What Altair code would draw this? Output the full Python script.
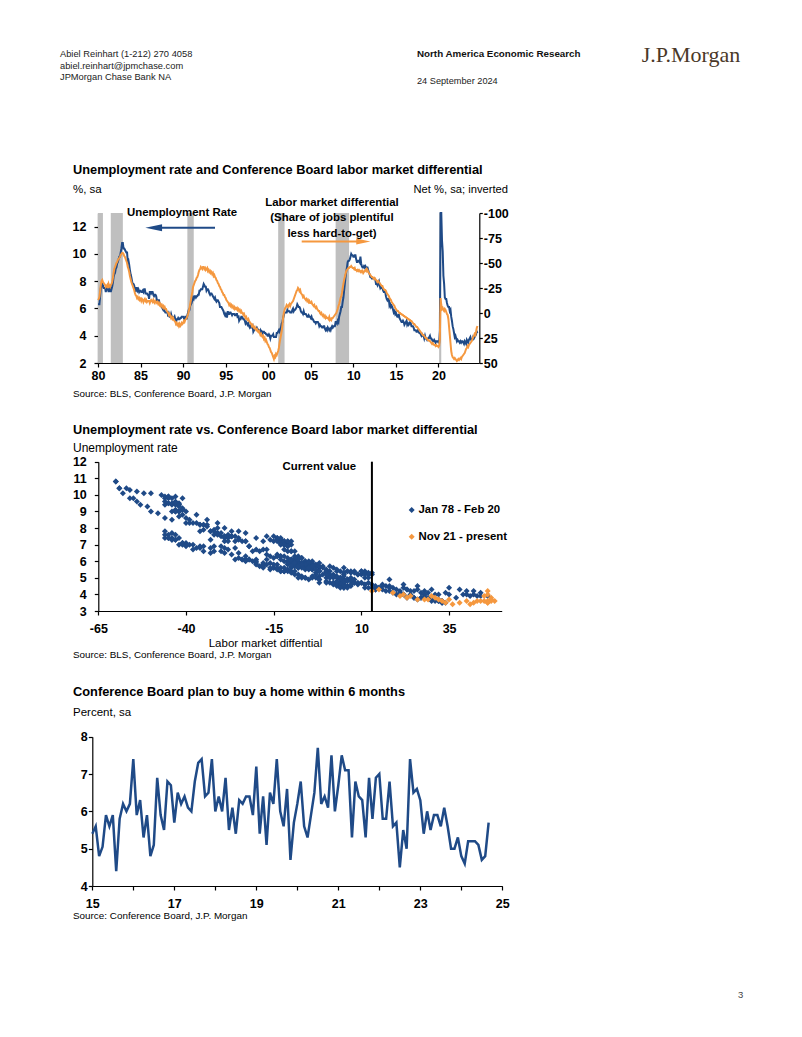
import altair as alt
import pandas as pd

# ---------------- data ----------------
first_year = 1978  # monthly, Jan 1978 - Aug 2024
unemployment_rate = [
    6.4, 6.3, 6.3, 6.1, 6.0, 5.9, 6.2, 5.9, 6.0, 5.8, 5.9, 6.0,   # 1978
    5.9, 5.9, 5.8, 5.8, 5.6, 5.7, 5.7, 6.0, 5.9, 6.0, 5.9, 6.0,   # 1979
    6.3, 6.3, 6.3, 6.9, 7.5, 7.6, 7.8, 7.7, 7.5, 7.5, 7.5, 7.2,   # 1980
    7.5, 7.4, 7.4, 7.2, 7.5, 7.5, 7.2, 7.4, 7.6, 7.9, 8.3, 8.5,   # 1981
    8.6, 8.9, 9.0, 9.3, 9.4, 9.6, 9.8, 9.8, 10.1, 10.4, 10.8, 10.8,  # 1982
    10.4, 10.4, 10.3, 10.2, 10.1, 10.1, 9.4, 9.5, 9.2, 8.8, 8.5, 8.3,  # 1983
    8.0, 7.8, 7.8, 7.7, 7.4, 7.2, 7.5, 7.5, 7.3, 7.4, 7.2, 7.3,   # 1984
    7.3, 7.2, 7.2, 7.3, 7.2, 7.4, 7.4, 7.1, 7.1, 7.1, 7.0, 7.0,   # 1985
    6.7, 7.2, 7.2, 7.1, 7.2, 7.2, 7.0, 6.9, 7.0, 7.0, 6.9, 6.6,   # 1986
    6.6, 6.6, 6.6, 6.3, 6.3, 6.2, 6.1, 6.0, 5.9, 6.0, 5.8, 5.7,   # 1987
    5.7, 5.7, 5.7, 5.4, 5.6, 5.4, 5.4, 5.6, 5.4, 5.4, 5.3, 5.3,   # 1988
    5.4, 5.2, 5.0, 5.2, 5.2, 5.3, 5.2, 5.2, 5.3, 5.3, 5.4, 5.4,   # 1989
    5.4, 5.3, 5.2, 5.4, 5.4, 5.2, 5.5, 5.7, 5.9, 5.9, 6.2, 6.3,   # 1990
    6.4, 6.6, 6.8, 6.7, 6.9, 6.9, 6.8, 6.9, 6.9, 7.0, 7.0, 7.3,   # 1991
    7.3, 7.4, 7.4, 7.4, 7.6, 7.8, 7.7, 7.6, 7.6, 7.3, 7.4, 7.4,   # 1992
    7.3, 7.1, 7.0, 7.1, 7.1, 7.0, 6.9, 6.8, 6.7, 6.8, 6.6, 6.5,   # 1993
    6.6, 6.6, 6.5, 6.4, 6.1, 6.1, 6.1, 6.0, 5.9, 5.8, 5.6, 5.5,   # 1994
    5.6, 5.4, 5.4, 5.8, 5.6, 5.6, 5.7, 5.7, 5.6, 5.5, 5.6, 5.6,   # 1995
    5.6, 5.5, 5.5, 5.6, 5.6, 5.3, 5.5, 5.1, 5.2, 5.2, 5.4, 5.4,   # 1996
    5.3, 5.2, 5.2, 5.1, 4.9, 5.0, 4.9, 4.8, 4.9, 4.7, 4.6, 4.7,   # 1997
    4.6, 4.6, 4.7, 4.3, 4.4, 4.5, 4.5, 4.5, 4.6, 4.5, 4.4, 4.4,   # 1998
    4.3, 4.4, 4.2, 4.3, 4.2, 4.3, 4.3, 4.2, 4.2, 4.1, 4.1, 4.0,   # 1999
    4.0, 4.1, 4.0, 3.8, 4.0, 4.0, 4.0, 4.1, 3.9, 3.9, 3.9, 3.9,   # 2000
    4.2, 4.2, 4.3, 4.4, 4.3, 4.5, 4.6, 4.9, 5.0, 5.3, 5.5, 5.7,   # 2001
    5.7, 5.7, 5.7, 5.9, 5.8, 5.8, 5.8, 5.7, 5.7, 5.7, 5.9, 6.0,   # 2002
    5.8, 5.9, 5.9, 6.0, 6.1, 6.3, 6.2, 6.1, 6.1, 6.0, 5.8, 5.7,   # 2003
    5.7, 5.6, 5.8, 5.6, 5.6, 5.6, 5.5, 5.4, 5.4, 5.5, 5.4, 5.4,   # 2004
    5.3, 5.4, 5.2, 5.2, 5.1, 5.0, 5.0, 4.9, 5.0, 5.0, 5.0, 4.9,   # 2005
    4.7, 4.8, 4.7, 4.7, 4.6, 4.6, 4.7, 4.7, 4.5, 4.4, 4.5, 4.4,   # 2006
    4.6, 4.5, 4.4, 4.5, 4.4, 4.6, 4.7, 4.6, 4.7, 4.7, 4.7, 5.0,   # 2007
    5.0, 4.9, 5.1, 5.0, 5.4, 5.6, 5.8, 6.1, 6.1, 6.5, 6.8, 7.3,   # 2008
    7.8, 8.3, 8.7, 9.0, 9.4, 9.5, 9.5, 9.6, 9.8, 10.0, 9.9, 9.9,  # 2009
    9.8, 9.8, 9.9, 9.9, 9.6, 9.4, 9.4, 9.5, 9.5, 9.4, 9.8, 9.3,   # 2010
    9.1, 9.0, 9.0, 9.1, 9.0, 9.1, 9.0, 9.0, 9.0, 8.8, 8.6, 8.5,   # 2011
    8.3, 8.3, 8.2, 8.2, 8.2, 8.2, 8.2, 8.1, 7.8, 7.8, 7.7, 7.9,   # 2012
    8.0, 7.7, 7.5, 7.6, 7.5, 7.5, 7.3, 7.2, 7.2, 7.2, 6.9, 6.7,   # 2013
    6.6, 6.7, 6.7, 6.2, 6.3, 6.1, 6.2, 6.1, 5.9, 5.7, 5.8, 5.6,   # 2014
    5.7, 5.5, 5.4, 5.4, 5.6, 5.3, 5.2, 5.1, 5.0, 5.0, 5.1, 5.0,   # 2015
    4.8, 4.9, 5.0, 5.1, 4.8, 4.9, 4.8, 4.9, 5.0, 4.9, 4.7, 4.7,   # 2016
    4.7, 4.6, 4.4, 4.4, 4.4, 4.3, 4.3, 4.4, 4.3, 4.2, 4.2, 4.1,   # 2017
    4.0, 4.1, 4.0, 4.0, 3.8, 4.0, 3.8, 3.8, 3.7, 3.8, 3.8, 3.9,   # 2018
    4.0, 3.8, 3.8, 3.7, 3.6, 3.6, 3.7, 3.6, 3.5, 3.6, 3.6, 3.6,   # 2019
    3.5, 3.5, 4.4, 14.8, 13.2, 11.0, 10.2, 8.4, 7.8, 6.8, 6.7, 6.7,  # 2020
    6.4, 6.2, 6.1, 6.1, 5.8, 5.9, 5.4, 5.1, 4.7, 4.5, 4.2, 3.9,   # 2021
    4.0, 3.8, 3.6, 3.7, 3.6, 3.6, 3.5, 3.6, 3.5, 3.6, 3.6, 3.5,   # 2022
    3.4, 3.6, 3.5, 3.4, 3.7, 3.6, 3.5, 3.7, 3.8, 3.9, 3.7, 3.7,   # 2023
    3.7, 3.9, 3.8, 3.9, 4.0, 4.1, 4.3, 4.2,                       # 2024
]
# Conference Board: jobs plentiful less jobs hard to get (net %)
labor_differential = [
    -14, -12, -13, -10, -9, -8, -7, -8, -6, -5, -6, -4,          # 1978
    -4, -5, -3, -4, -2, -5, -6, -8, -7, -9, -10, -11,            # 1979
    -13, -14, -16, -22, -28, -32, -33, -31, -30, -29, -28, -26,  # 1980
    -27, -28, -25, -29, -27, -26, -28, -29, -31, -35, -40, -44,  # 1981
    -46, -48, -50, -51, -53, -54, -55, -56, -58, -59, -60, -60,  # 1982
    -59, -57, -56, -54, -52, -50, -46, -44, -41, -37, -34, -31,  # 1983
    -29, -27, -25, -23, -20, -18, -17, -15, -16, -14, -15, -13,  # 1984
    -14, -12, -14, -13, -11, -13, -14, -12, -13, -11, -12, -12,  # 1985
    -12, -10, -12, -13, -12, -11, -13, -11, -10, -12, -11, -10,  # 1986
    -11, -9, -10, -8, -9, -7, -8, -6, -7, -5, -6, -4,            # 1987
    -4, -2, -1, 0, 2, 1, 3, 5, 4, 6, 5, 7,                       # 1988
    8, 9, 11, 10, 12, 11, 13, 11, 13, 12, 10, 11,                # 1989
    10, 8, 9, 7, 6, 5, 3, 1, -2, -5, -9, -13,                    # 1990
    -17, -21, -26, -28, -30, -32, -33, -35, -36, -38, -41, -43,  # 1991
    -44, -46, -45, -44, -46, -46, -44, -45, -43, -44, -45, -42,  # 1992
    -43, -41, -42, -40, -41, -39, -40, -37, -38, -36, -35, -33,  # 1993
    -32, -30, -29, -27, -26, -24, -23, -21, -20, -18, -18, -16,  # 1994
    -15, -13, -12, -11, -10, -8, -9, -7, -8, -6, -7, -5,         # 1995
    -6, -4, -5, -4, -5, -3, -4, -2, -3, -1, -2, 0,               # 1996
    0, 2, 1, 3, 5, 4, 6, 7, 6, 8, 9, 10,                         # 1997
    11, 13, 12, 14, 15, 14, 16, 17, 16, 18, 19, 18,              # 1998
    20, 22, 21, 23, 24, 23, 26, 25, 28, 27, 29, 31,              # 1999
    32, 34, 35, 37, 39, 40, 42, 44, 46, 43, 44, 41,              # 2000
    42, 40, 38, 35, 30, 26, 22, 18, 12, 5, 0, -3,                # 2001
    -5, -6, -8, -7, -6, -8, -9, -7, -9, -10, -11, -12,           # 2002
    -14, -16, -18, -20, -22, -23, -25, -24, -22, -23, -20, -19,  # 2003
    -18, -16, -17, -15, -14, -13, -14, -12, -13, -11, -12, -10,  # 2004
    -10, -11, -9, -8, -7, -8, -6, -5, -6, -4, -3, -2,            # 2005
    -2, 0, 1, 0, 2, 3, 2, 4, 3, 5, 4, 5,                         # 2006
    5, 6, 4, 7, 6, 7, 5, 5, 4, 3, 2, 1,                          # 2007
    0, -2, -4, -7, -9, -12, -15, -17, -20, -25, -29, -33,        # 2008
    -36, -39, -42, -43, -44, -45, -45, -46, -46, -47, -46, -45,  # 2009
    -45, -44, -45, -43, -43, -42, -43, -42, -43, -42, -41, -42,  # 2010
    -41, -42, -40, -41, -42, -43, -42, -44, -43, -41, -40, -39,  # 2011
    -38, -37, -36, -36, -35, -34, -35, -34, -33, -32, -31, -32,  # 2012
    -31, -30, -29, -28, -27, -27, -25, -24, -23, -23, -22, -20,  # 2013
    -19, -18, -17, -15, -14, -13, -11, -10, -9, -8, -7, -5,      # 2014
    -4, -3, -2, -2, -1, 0, 0, 1, 1, 2, 2, 3,                     # 2015
    3, 4, 4, 5, 5, 6, 6, 7, 7, 8, 8, 9,                          # 2016
    10, 11, 11, 12, 13, 14, 14, 15, 16, 17, 18, 19,              # 2017
    20, 21, 22, 22, 23, 24, 25, 25, 26, 27, 27, 28,              # 2018
    28, 29, 30, 31, 30, 31, 32, 32, 33, 32, 33, 33,              # 2019
    34, 33, 26, -15, -8, -4, -5, -3, -2, -4, -3, -1,             # 2020
    1, 2, 6, 14, 22, 30, 38, 42, 44, 45, 46, 45,                 # 2021
    46, 47, 48, 47, 46, 47, 46, 45, 46, 44, 43, 42,              # 2022
    41, 40, 38, 36, 35, 33, 34, 32, 31, 30, 29, 28,              # 2023
    26, 24, 23, 21, 22, 19, 15, 13,                              # 2024
]
recession_start = [1980.0, 1981.5, 1990.5, 2001.17, 2007.92, 2020.08]
recession_end = [1980.58, 1982.92, 1991.25, 2001.92, 2009.5, 2020.33]

home_first_year = 2015  # monthly, Jan 2015 - Sep 2024
plan_to_buy_home = [
    5.4, 5.6, 4.8, 5.05, 5.9, 5.6, 5.9, 4.4, 5.8, 6.2, 6.0, 6.2,   # 2015
    7.4, 5.9, 6.3, 5.3, 5.9, 4.8, 5.1, 6.9, 5.9, 5.5, 6.8, 6.7,    # 2016
    5.7, 6.5, 6.2, 6.4, 6.1, 6.0, 6.8, 7.3, 7.4, 6.4, 6.5, 7.4,    # 2017
    6.0, 6.4, 6.0, 6.9, 5.5, 6.1, 5.4, 6.3, 6.2, 6.4, 6.4, 5.9,    # 2018
    7.2, 5.4, 6.4, 5.1, 6.5, 6.2, 7.4, 6.0, 5.6, 6.6, 4.7, 5.7,    # 2019
    6.2, 6.8, 5.6, 5.3, 5.9, 6.5, 7.7, 6.2, 6.4, 6.1, 7.5, 6.0,    # 2020
    6.7, 7.5, 7.1, 7.1, 5.3, 6.8, 6.4, 6.3, 5.3, 6.9, 5.8, 6.9,    # 2021
    7.0, 5.8, 5.8, 6.8, 5.6, 5.7, 4.5, 5.5, 5.0, 7.4, 6.5, 6.6,    # 2022
    6.3, 5.4, 6.0, 5.5, 5.9, 5.9, 5.6, 6.1, 5.6, 5.0, 5.0, 5.3,    # 2023
    4.8, 4.6, 5.2, 5.2, 5.2, 5.1, 4.7, 4.8, 5.7,                   # 2024
]

# ---------------- tables ----------------
n = len(unemployment_rate)
df = pd.DataFrame({
    "t": [first_year + i / 12 for i in range(n)],
    "ur": unemployment_rate,
    "lmd": labor_differential,
})
line_df = df[df["t"] >= 1980].reset_index(drop=True)
feb20 = (2020 - first_year) * 12 + 1
nov21 = (2021 - first_year) * 12 + 10
blue_df = df.iloc[: feb20 + 1]
orange_df = df.iloc[nov21:]
current_df = pd.DataFrame({"cur": [labor_differential[-1]]})
rec_df = pd.DataFrame({"s": recession_start, "e": recession_end})
home_df = pd.DataFrame({
    "t": [home_first_year + i / 12 for i in range(len(plan_to_buy_home))],
    "v": plan_to_buy_home,
})

# ---------------- layout helpers ----------------
W, H = 786, 1010
M = 8
NAVY = "#1f4a87"
ORANGE = "#f5983f"
GRAY = "#bfbfbf"
SANS = "'Liberation Sans', Arial, sans-serif"
SERIF = "'Liberation Serif', 'Times New Roman', serif"
PLAIN = "'' + datum.value"


def P(v):
    return v - M


def label(text, x, y, size=12, weight="normal", align="left", color="#000", font=SANS):
    return alt.Chart().mark_text(
        text=text, align=align, baseline="middle", fontSize=size,
        fontWeight=weight, color=color, font=font,
    ).encode(x=alt.value(P(x)), y=alt.value(P(y)))


def sc(domain, r0, r1, **kw):
    return alt.Scale(domain=domain, range=[P(r0), P(r1)], nice=False, zero=False, **kw)


def ax(orient, pos, values, expr=PLAIN, pad=3, size=12.5, tick=4):
    if orient == "bottom":
        off = P(pos) - H
    elif orient == "left":
        off = -P(pos)
    else:
        off = P(pos) - W
    return alt.Axis(
        orient=orient, offset=off, values=values, grid=False, title=None,
        domainColor="#000", tickColor="#000", domainWidth=1.2, tickWidth=1.2,
        tickSize=tick, labelFont=SANS, labelFontSize=size, labelFontWeight="bold",
        labelColor="#000", labelPadding=pad, labelFlush=False, labelOverlap=False,
        labelExpr=expr,
    )


def arrow_head(x, y, color, path, size):
    return alt.Chart().mark_point(shape=path, filled=True, size=size, color=color, opacity=1,
                                  strokeWidth=0).encode(x=alt.value(P(x)), y=alt.value(P(y)))


def hline(x1, x2, y, color, w=2):
    return alt.Chart().mark_rule(color=color, strokeWidth=w).encode(
        x=alt.value(P(x1)), x2=alt.value(P(x2)), y=alt.value(P(y)))


def diamond(x, y, color):
    return alt.Chart().mark_point(shape="diamond", filled=True, size=36, color=color, opacity=1).encode(
        x=alt.value(P(x)), y=alt.value(P(y)))


layers = []

# ---------------- header ----------------
layers += [
    label("Abiel Reinhart  (1-212) 270 4058", 60, 53.5, 9.3, color="#222"),
    label("abiel.reinhart@jpmchase.com", 60, 65.5, 9.3, color="#222"),
    label("JPMorgan Chase Bank NA", 60, 77, 9.3, color="#222"),
    label("North America Economic Research", 417, 54, 9.8, "bold", color="#111"),
    label("24 September 2024", 417, 81, 9.2, color="#222"),
    label("J.P.Morgan", 691, 55, 22, align="center", color="#4a3828", font=SERIF),
    label("3", 738, 995, 9.5, color="#444"),
]

# ---------------- chart 1 ----------------
x1 = sc([1980, 2024.8], 98, 479.3)
yL = sc([2, 13], 363, 213, clamp=True)
yLb = sc([2, 13], 363, 213)
yR = sc([-100, 50], 213, 363)
x1_expr = ("datum.value < 2000 ? '' + (datum.value - 1900) : "
           "(datum.value < 2010 ? '0' + (datum.value - 2000) : '' + (datum.value - 2000))")

layers += [
    alt.Chart(rec_df).mark_rect(color=GRAY).encode(
        x=alt.X("s:Q", scale=x1, axis=None), x2="e:Q",
        y=alt.YDatum(13, type="quantitative", scale=yLb, axis=None), y2=alt.Y2Datum(2)),
    alt.Chart(line_df).mark_line(color=NAVY, strokeWidth=2).encode(
        x=alt.X("t:Q", scale=x1, axis=ax("bottom", 363, list(range(1980, 2021, 5)), x1_expr, pad=2)),
        y=alt.Y("ur:Q", scale=yL, axis=ax("left", 98, list(range(2, 13, 2)), pad=8))),
    alt.Chart(line_df).mark_line(color=ORANGE, strokeWidth=2).encode(
        x=alt.X("t:Q", scale=x1, axis=None),
        y=alt.Y("lmd:Q", scale=yR, axis=ax("right", 479.3, list(range(-100, 51, 25)), pad=1, tick=3))),
    label("Unemployment rate and Conference Board labor market differential", 73, 170, 12.8, "bold"),
    label("%, sa", 73, 190, 11.5),
    label("Net %, sa; inverted", 508, 190, 11.2, align="right"),
    label("Unemployment Rate", 127, 212.5, 11.4, "bold"),
    label("Labor market differential", 332, 202.7, 11.4, "bold", align="center"),
    label("(Share of jobs plentiful", 332, 218.3, 11.4, "bold", align="center"),
    label("less hard-to-get)", 332, 234, 11.4, "bold", align="center"),
    hline(156, 215, 227.7, NAVY),
    arrow_head(153.7, 227.7, NAVY, "M -1 0 L 1 -0.42 L 1 0.42 Z", 280),
    hline(301.7, 362, 241.5, ORANGE),
    arrow_head(363.3, 241.5, ORANGE, "M 1 0 L -1 -0.42 L -1 0.42 Z", 200),
    label("Source: BLS, Conference Board, J.P. Morgan", 73, 394, 9.9),
]

# ---------------- chart 2 ----------------
x2s = sc([-65, 50], 98.3, 501.7)
y2s = sc([3, 12], 611, 461.7)
layers += [
    alt.Chart(blue_df).mark_point(shape="diamond", filled=True, size=36, color=NAVY, opacity=1).encode(
        x=alt.X("lmd:Q", scale=x2s, axis=ax("bottom", 611, [-65, -40, -15, 10, 35], pad=7)),
        y=alt.Y("ur:Q", scale=y2s, axis=ax("left", 98.3, list(range(3, 13)), pad=8))),
    alt.Chart(orange_df).mark_point(shape="diamond", filled=True, size=36, color=ORANGE, opacity=1).encode(
        x=alt.X("lmd:Q", scale=x2s, axis=None),
        y=alt.Y("ur:Q", scale=y2s, axis=None)),
    alt.Chart(current_df).mark_rule(color="#000", strokeWidth=2).encode(
        x=alt.X("cur:Q", scale=x2s, axis=None),
        y=alt.YDatum(12, type="quantitative", scale=y2s, axis=None), y2=alt.Y2Datum(3)),
    label("Unemployment rate vs. Conference Board labor market differential", 73, 430, 12.8, "bold"),
    label("Unemployment rate", 73, 447.5, 12),
    label("Current value", 356, 466.7, 11.4, "bold", align="right"),
    diamond(411.7, 510, NAVY),
    label("Jan 78 - Feb 20", 418.5, 510, 11.4, "bold"),
    diamond(411.7, 536.7, ORANGE),
    label("Nov 21 - present", 418.5, 536.7, 11.4, "bold"),
    label("Labor market diffential", 265.5, 644.3, 11.5, align="center"),
    label("Source: BLS, Conference Board, J.P. Morgan", 73, 654.5, 9.9),
]

# ---------------- chart 3 ----------------
x3 = sc([2015, 2025], 92.3, 502.3)
y3 = sc([4, 8], 886, 736.7)
layers += [
    alt.Chart(home_df).mark_line(color=NAVY, strokeWidth=2.5).encode(
        x=alt.X("t:Q", scale=x3, axis=ax("bottom", 886, list(range(2015, 2026)),
                                         "datum.value % 2 == 1 ? '' + (datum.value - 2000) : ''", pad=7)),
        y=alt.Y("v:Q", scale=y3, axis=ax("left", 92.3, [4, 5, 6, 7, 8], pad=1))),
    label("Conference Board plan to buy a home within 6 months", 73, 691.7, 12.8, "bold"),
    label("Percent, sa", 73, 713.3, 11.5),
    label("Source: Conference Board, J.P. Morgan", 73, 915.5, 9.9),
]

chart = (
    alt.layer(*layers)
    .resolve_scale(x="independent", y="independent")
    .resolve_axis(x="independent", y="independent")
    .properties(width=W, height=H, autosize=alt.AutoSizeParams(type="none"), padding=0)
    .configure(background="white")
    .configure_view(stroke=None)
)

chart.save("out.html", embed_options={"renderer": "svg", "actions": False})
